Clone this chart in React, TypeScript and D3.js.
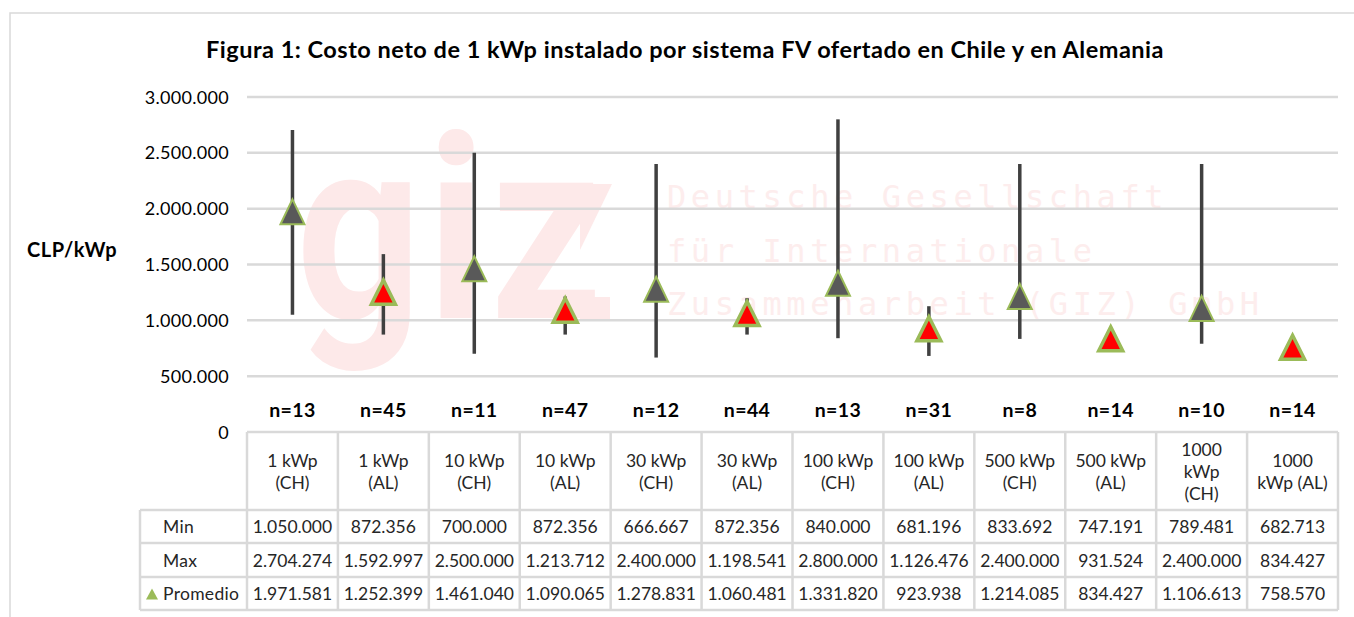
import React from 'react';
import * as d3 from 'd3';

// datos
const categories = ['1 kWp (CH)', '1 kWp (AL)', '10 kWp (CH)', '10 kWp (AL)', '30 kWp (CH)', '30 kWp (AL)',
    '100 kWp (CH)', '100 kWp (AL)', '500 kWp (CH)', '500 kWp (AL)', '1000 kWp (CH)', '1000 kWp (AL)'];
const headerLines = [
    ['1 kWp', '(CH)'], ['1 kWp', '(AL)'], ['10 kWp', '(CH)'], ['10 kWp', '(AL)'],
    ['30 kWp', '(CH)'], ['30 kWp', '(AL)'], ['100 kWp', '(CH)'], ['100 kWp', '(AL)'],
    ['500 kWp', '(CH)'], ['500 kWp', '(AL)'], ['1000', 'kWp', '(CH)'], ['1000', 'kWp (AL)'],
];
const countries = ['CH', 'AL', 'CH', 'AL', 'CH', 'AL', 'CH', 'AL', 'CH', 'AL', 'CH', 'AL'];
const nValues = [13, 45, 11, 47, 12, 44, 13, 31, 8, 14, 10, 14];
const minValues = [1050000, 872356, 700000, 872356, 666667, 872356, 840000, 681196, 833692, 747191, 789481, 682713];
const maxValues = [2704274, 1592997, 2500000, 1213712, 2400000, 1198541, 2800000, 1126476, 2400000, 931524, 2400000, 834427];
const avgValues = [1971581, 1252399, 1461040, 1090065, 1278831, 1060481, 1331820, 923938, 1214085, 834427, 1106613, 758570];
const yTicks = [0, 500000, 1000000, 1500000, 2000000, 2500000, 3000000];
const rowLabels = ['Min', 'Max', 'Promedio'];

const FONT = 'Lato, "Open Sans", sans-serif';
const GRID = '#d9d9d9';

const es = d3.formatLocale({ decimal: ',', thousands: '.', grouping: [3], currency: ['', ''] });
const fmt = es.format(',d');

const tri = (w: number, h: number) => `M0,${-h / 2}L${w / 2},${h / 2}L${-w / 2},${h / 2}Z`;

export default function App() {
    const y = d3.scaleLinear().domain([0, 3000000]).range([432, 97]);
    const x = d3.scaleBand().domain(categories).range([247, 1338]).padding(0);
    const bw = x.bandwidth();

    // filas de la tabla
    const headTop = y(0), headBottom = 510;
    const rowEdges = [510, 543, 577, 610];
    const tableLeft = 140;
    const rowData = [minValues, maxValues, avgValues];

    return (
        <svg width={1354} height={617} style={{ position: 'absolute', left: 0, top: 0, background: '#fff' }}
            fontFamily={FONT}>
            <rect x={10} y={13} width={1400} height={700} fill="#fff" stroke={GRID} strokeWidth={1.5} />

            {/* marca de agua */}
            <g fill="#fde9e9">
                <text transform="translate(296,318) scale(0.86,1)" fontFamily="Roboto" fontSize={256} fontWeight={700}
                    letterSpacing={6}>giz</text>
                <polygon points="580,184 612,184 580,250" />
                <rect x={580} y={297} width={30} height={22} />
                <g fontFamily='"DejaVu Sans Mono", monospace' fontSize={32} letterSpacing={4.6} fill="#fdeded">
                    <text x={667} y={208}>Deutsche Gesellschaft</text>
                    <text x={667} y={262}>für Internationale</text>
                    <text x={667} y={315}>Zusammenarbeit (GIZ) GmbH</text>
                </g>
            </g>

            <text x={685} y={58} textAnchor="middle" fontSize={23.5} fontWeight={700} letterSpacing={0.5} fill="#000">
                Figura 1: Costo neto de 1 kWp instalado por sistema FV ofertado en Chile y en Alemania
            </text>
            <text x={27} y={257} fontSize={20} fontWeight={700} letterSpacing={0.6} fill="#000">CLP/kWp</text>

            {/* eje y */}
            {yTicks.map(t => (
                <g key={t}>
                    {t > 0 && <line x1={247} x2={1338} y1={y(t)} y2={y(t)} stroke={GRID} strokeWidth={2.5} />}
                    <text x={229} y={y(t) + 6.5} textAnchor="end" fontSize={18} letterSpacing={0.3} fill="#000">{fmt(t)}</text>
                </g>
            ))}

            {/* rangos min-max y promedio */}
            {categories.map((c, i) => {
                const cx = (x(c) as number) + bw / 2;
                const isCH = countries[i] === 'CH';
                return (
                    <g key={c}>
                        <line x1={cx} x2={cx} y1={y(minValues[i])} y2={y(maxValues[i])} stroke="#404040" strokeWidth={3.5} />
                        <path d={isCH ? tri(24, 25) : tri(24, 24)}
                            transform={`translate(${cx},${y(avgValues[i])})`}
                            fill={isCH ? '#595959' : '#ff0000'} stroke="#9bbb59"
                            strokeWidth={isCH ? 2 : 3.5} strokeLinejoin="miter" />
                        <text x={cx} y={417} textAnchor="middle" fontSize={19.5} fontWeight={700} letterSpacing={0.4} fill="#000">n={nValues[i]}</text>
                    </g>
                );
            })}

            {/* tabla de datos */}
            <g stroke={GRID} strokeWidth={2.5}>
                <line x1={247} x2={1338} y1={headTop} y2={headTop} />
                {rowEdges.map(e => <line key={e} x1={tableLeft} x2={1338} y1={e} y2={e} />)}
                <line x1={tableLeft} x2={tableLeft} y1={headBottom} y2={610} />
                {categories.map(c => (
                    <line key={c} x1={x(c)} x2={x(c)} y1={headTop} y2={610} />
                ))}
                <line x1={1338} x2={1338} y1={headTop} y2={610} />
            </g>
            {categories.map((c, i) => {
                const cx = (x(c) as number) + bw / 2;
                const lines = headerLines[i];
                const y0 = 478 - (lines.length - 1) * 11;
                return (
                    <g key={c} fontSize={17.5} fill="#262626" textAnchor="middle">
                        {lines.map((l, k) => <text key={k} x={cx} y={y0 + k * 22}>{l}</text>)}
                        {rowData.map((vals, r) => (
                            <text key={r} x={cx} y={(rowEdges[r] + rowEdges[r + 1]) / 2 + 6.5}>{fmt(vals[i])}</text>
                        ))}
                    </g>
                );
            })}
            {rowLabels.map((l, r) => (
                <text key={l} x={163} y={(rowEdges[r] + rowEdges[r + 1]) / 2 + 6.5} fontSize={17.5} letterSpacing={0.3} fill="#262626">{l}</text>
            ))}
            <path d={tri(12, 11)} transform="translate(152,594)" fill="#9bbb59" />
        </svg>
    );
}
